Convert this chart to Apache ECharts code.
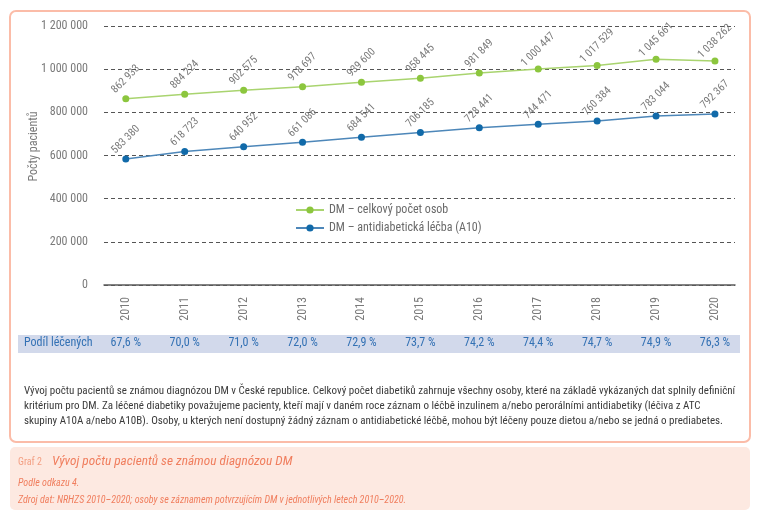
<!DOCTYPE html>
<html>
<head>
<meta charset="utf-8">
<script src="https://cdn.jsdelivr.net/npm/echarts@6/dist/echarts.min.js"></script>
<style>
html,body{margin:0;padding:0;background:#fff;}
#c{width:760px;height:522px;}
</style>
</head>
<body>
<div id="c"></div>
<script>
const years = [2010, 2011, 2012, 2013, 2014, 2015, 2016, 2017, 2018, 2019, 2020];
const totalPatients = [862933, 884224, 902575, 918697, 939600, 958445, 981849, 1000447, 1017529, 1045661, 1038262];
const treatedPatients = [583380, 618723, 640952, 661086, 684541, 706185, 728441, 744471, 760384, 783044, 792367];
const treatedShare = ['67,6 %', '70,0 %', '71,0 %', '72,0 %', '72,9 %', '73,7 %', '74,2 %', '74,4 %', '74,7 %', '74,9 %', '76,3 %'];
const seriesNames = ['DM – celkový počet osob', 'DM – antidiabetická léčba (A10)'];

const FONT = "'Roboto Condensed', 'DejaVu Sans Condensed', sans-serif";
const fmt = v => String(Math.round(v)).replace(/\B(?=(\d{3})+(?!\d))/g, ' ');

const chart = echarts.init(document.getElementById('c'), null, {renderer: 'canvas'});

const labelCfg = {
  show: true, position: 'top', distance: 16, rotate: 45,
  align: 'center', verticalAlign: 'middle',
  color: '#7a7a7a', fontSize: 11, fontFamily: FONT,
  formatter: p => fmt(p.value[1])
};

const option = {
  animation: false,
  textStyle: {fontFamily: FONT},
  grid: {left: 104, right: 25, top: 26, bottom: 237, containLabel: false},
  xAxis: [{
    type: 'value', min: 2009.63, max: 2020.34,
    axisLine: {show: true, lineStyle: {color: '#5a5a5a', width: 1.5}},
    axisTick: {show: false},
    splitLine: {show: false},
    axisLabel: {customValues: years, rotate: 90, margin: 12, color: '#7a7a7a', fontSize: 12, fontFamily: FONT,
      formatter: v => String(Math.round(v))}
  }, {
    type: 'value', min: 2009.63, max: 2020.34, position: 'bottom', offset: 44,
    axisLine: {show: false}, axisTick: {show: false}, splitLine: {show: false},
    axisLabel: {customValues: years, margin: 8, color: '#3371b4', fontSize: 12, fontFamily: FONT,
      formatter: v => treatedShare[years.indexOf(Math.round(v))] || ''}
  }],
  yAxis: {
    type: 'value', min: 0, max: 1200000, interval: 200000,
    name: 'Počty pacientů', nameLocation: 'middle', nameGap: 64, nameMoveOverlap: false,
    nameTextStyle: {color: '#7a7a7a', fontSize: 12, fontFamily: FONT, padding: [0, 0, 0, 18]},
    axisLine: {show: false}, axisTick: {show: false},
    axisLabel: {margin: 16, color: '#7a7a7a', fontSize: 12, fontFamily: FONT, formatter: v => fmt(v)},
    splitLine: {show: true, lineStyle: {color: '#555', type: [4, 3], width: 1}}
  },
  legend: {
    orient: 'vertical', left: 290, top: 199, itemWidth: 28, itemHeight: 9, itemGap: 6,
    textStyle: {color: '#6a6a6a', fontSize: 12, fontFamily: FONT, lineHeight: 12},
    data: seriesNames
  },
  series: [{
    name: seriesNames[0], type: 'line', xAxisIndex: 0,
    data: years.map((y, i) => [y, totalPatients[i]]),
    symbol: 'circle', symbolSize: 7,
    itemStyle: {color: '#8cc63e'},
    lineStyle: {color: '#a9d46f', width: 1.5},
    label: labelCfg
  }, {
    name: seriesNames[1], type: 'line', xAxisIndex: 0,
    data: years.map((y, i) => [y, treatedPatients[i]]),
    symbol: 'circle', symbolSize: 7,
    itemStyle: {color: '#116aa9'},
    lineStyle: {color: '#4d87b9', width: 1.5},
    label: labelCfg
  }],
  graphic: [
    {type: 'rect', z: -10, shape: {x: 10, y: 11, width: 740, height: 431, r: 6},
      style: {fill: 'none', stroke: '#fbbca8', lineWidth: 2}},
    {type: 'rect', z: -10, shape: {x: 18, y: 335, width: 722, height: 18},
      style: {fill: '#d2d9eb'}},
    {type: 'text', left: 24, top: 337, style: {text: 'Podíl léčených', fill: '#3371b4', font: '12px ' + FONT}},
    {type: 'text', left: 24, top: 383.5, style: {
      text: 'Vývoj počtu pacientů se známou diagnózou DM v České republice. Celkový počet diabetiků zahrnuje všechny osoby, které na základě vykázaných dat splnily definiční\nkritérium pro DM. Za léčené diabetiky považujeme pacienty, kteří mají v daném roce záznam o léčbě inzulinem a/nebo perorálními antidiabetiky (léčiva z ATC\nskupiny A10A a/nebo A10B). Osoby, u kterých není dostupný žádný záznam o antidiabetické léčbě, mohou být léčeny pouze dietou a/nebo se jedná o prediabetes.',
      fill: '#3a3a3a', font: '11px ' + FONT, lineHeight: 15}},
    {type: 'rect', z: -10, shape: {x: 10, y: 447, width: 740, height: 63, r: 5},
      style: {fill: '#fde9e1'}},
    {type: 'text', left: 18, top: 457, style: {text: 'Graf 2', fill: '#f3a084', font: '10px ' + FONT}},
    {type: 'text', left: 52, top: 455, style: {text: 'Vývoj počtu pacientů se známou diagnózou DM', fill: '#f07e5e', font: 'italic 13.3px ' + FONT}},
    {type: 'text', left: 18, top: 478, style: {text: 'Podle odkazu 4.', fill: '#f07e5e', font: 'italic 10px ' + FONT}},
    {type: 'text', left: 18, top: 495, style: {text: 'Zdroj dat: NRHZS 2010–2020; osoby se záznamem potvrzujícím DM v jednotlivých letech 2010–2020.', fill: '#f07e5e', font: 'italic 10px ' + FONT}}
  ]
};
chart.setOption(option);
</script>
</body>
</html>
